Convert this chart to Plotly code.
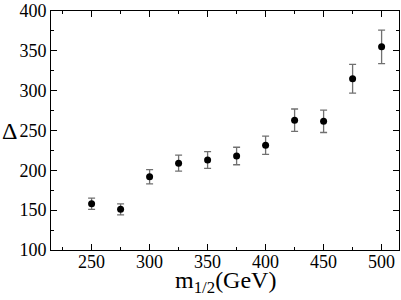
import plotly.graph_objects as go

m_half = [250, 275, 300, 325, 350, 375, 400, 425, 450, 475, 500]
delta = [158, 151, 192, 209, 213, 218, 231.5, 263, 261.5, 315, 355]
err = [7, 7, 9, 10, 10.5, 11, 11.5, 14, 14, 18, 21]

x_ticks = [250, 300, 350, 400, 450, 500]
y_ticks = [100, 150, 200, 250, 300, 350, 400]

fig = go.Figure()
fig.add_trace(go.Scatter(
    x=m_half, y=delta, mode="markers",
    marker=dict(color="black", size=7),
    error_y=dict(type="data", array=err, visible=True, color="#707070",
                 thickness=1.3, width=3.5),
    showlegend=False,
))

font = "Liberation Serif"
axis_common = dict(
    showgrid=False, zeroline=False, showline=True, linecolor="black",
    linewidth=1, mirror="allticks", ticks="inside", ticklen=6,
    tickcolor="black", tickwidth=1, ticklabeloverflow="allow",
    tickfont=dict(family=font, size=18, color="black"),
)
fig.update_xaxes(range=[215, 515], tickvals=x_ticks, ticklabelstandoff=-5,
                 minor=dict(dtick=25, tick0=225, ticks="inside", ticklen=3, tickcolor="black"),
                 **axis_common)
fig.update_yaxes(range=[100, 400], tickvals=y_ticks,
                 minor=dict(dtick=25, ticks="inside", ticklen=3, tickcolor="black"),
                 **axis_common)
fig.add_annotation(text="Δ", x=0, xref="paper", xanchor="left", y=250, yref="y",
                   yanchor="middle", showarrow=False, xshift=-51,
                   font=dict(family=font, size=24, color="black"))
fig.add_annotation(text="m<sub>1/2</sub>(GeV)", x=0.5, xref="paper", xanchor="center",
                   y=0, yref="paper", yanchor="top", yshift=-15, showarrow=False,
                   font=dict(family=font, size=24, color="black"))
fig.update_layout(width=401, height=300, margin=dict(l=51, r=1, t=8, b=50),
                  plot_bgcolor="white", paper_bgcolor="white")
fig.write_html("out.html", config={"displayModeBar": False},
               post_script="document.body.style.margin='0';document.body.style.overflow='hidden';")
